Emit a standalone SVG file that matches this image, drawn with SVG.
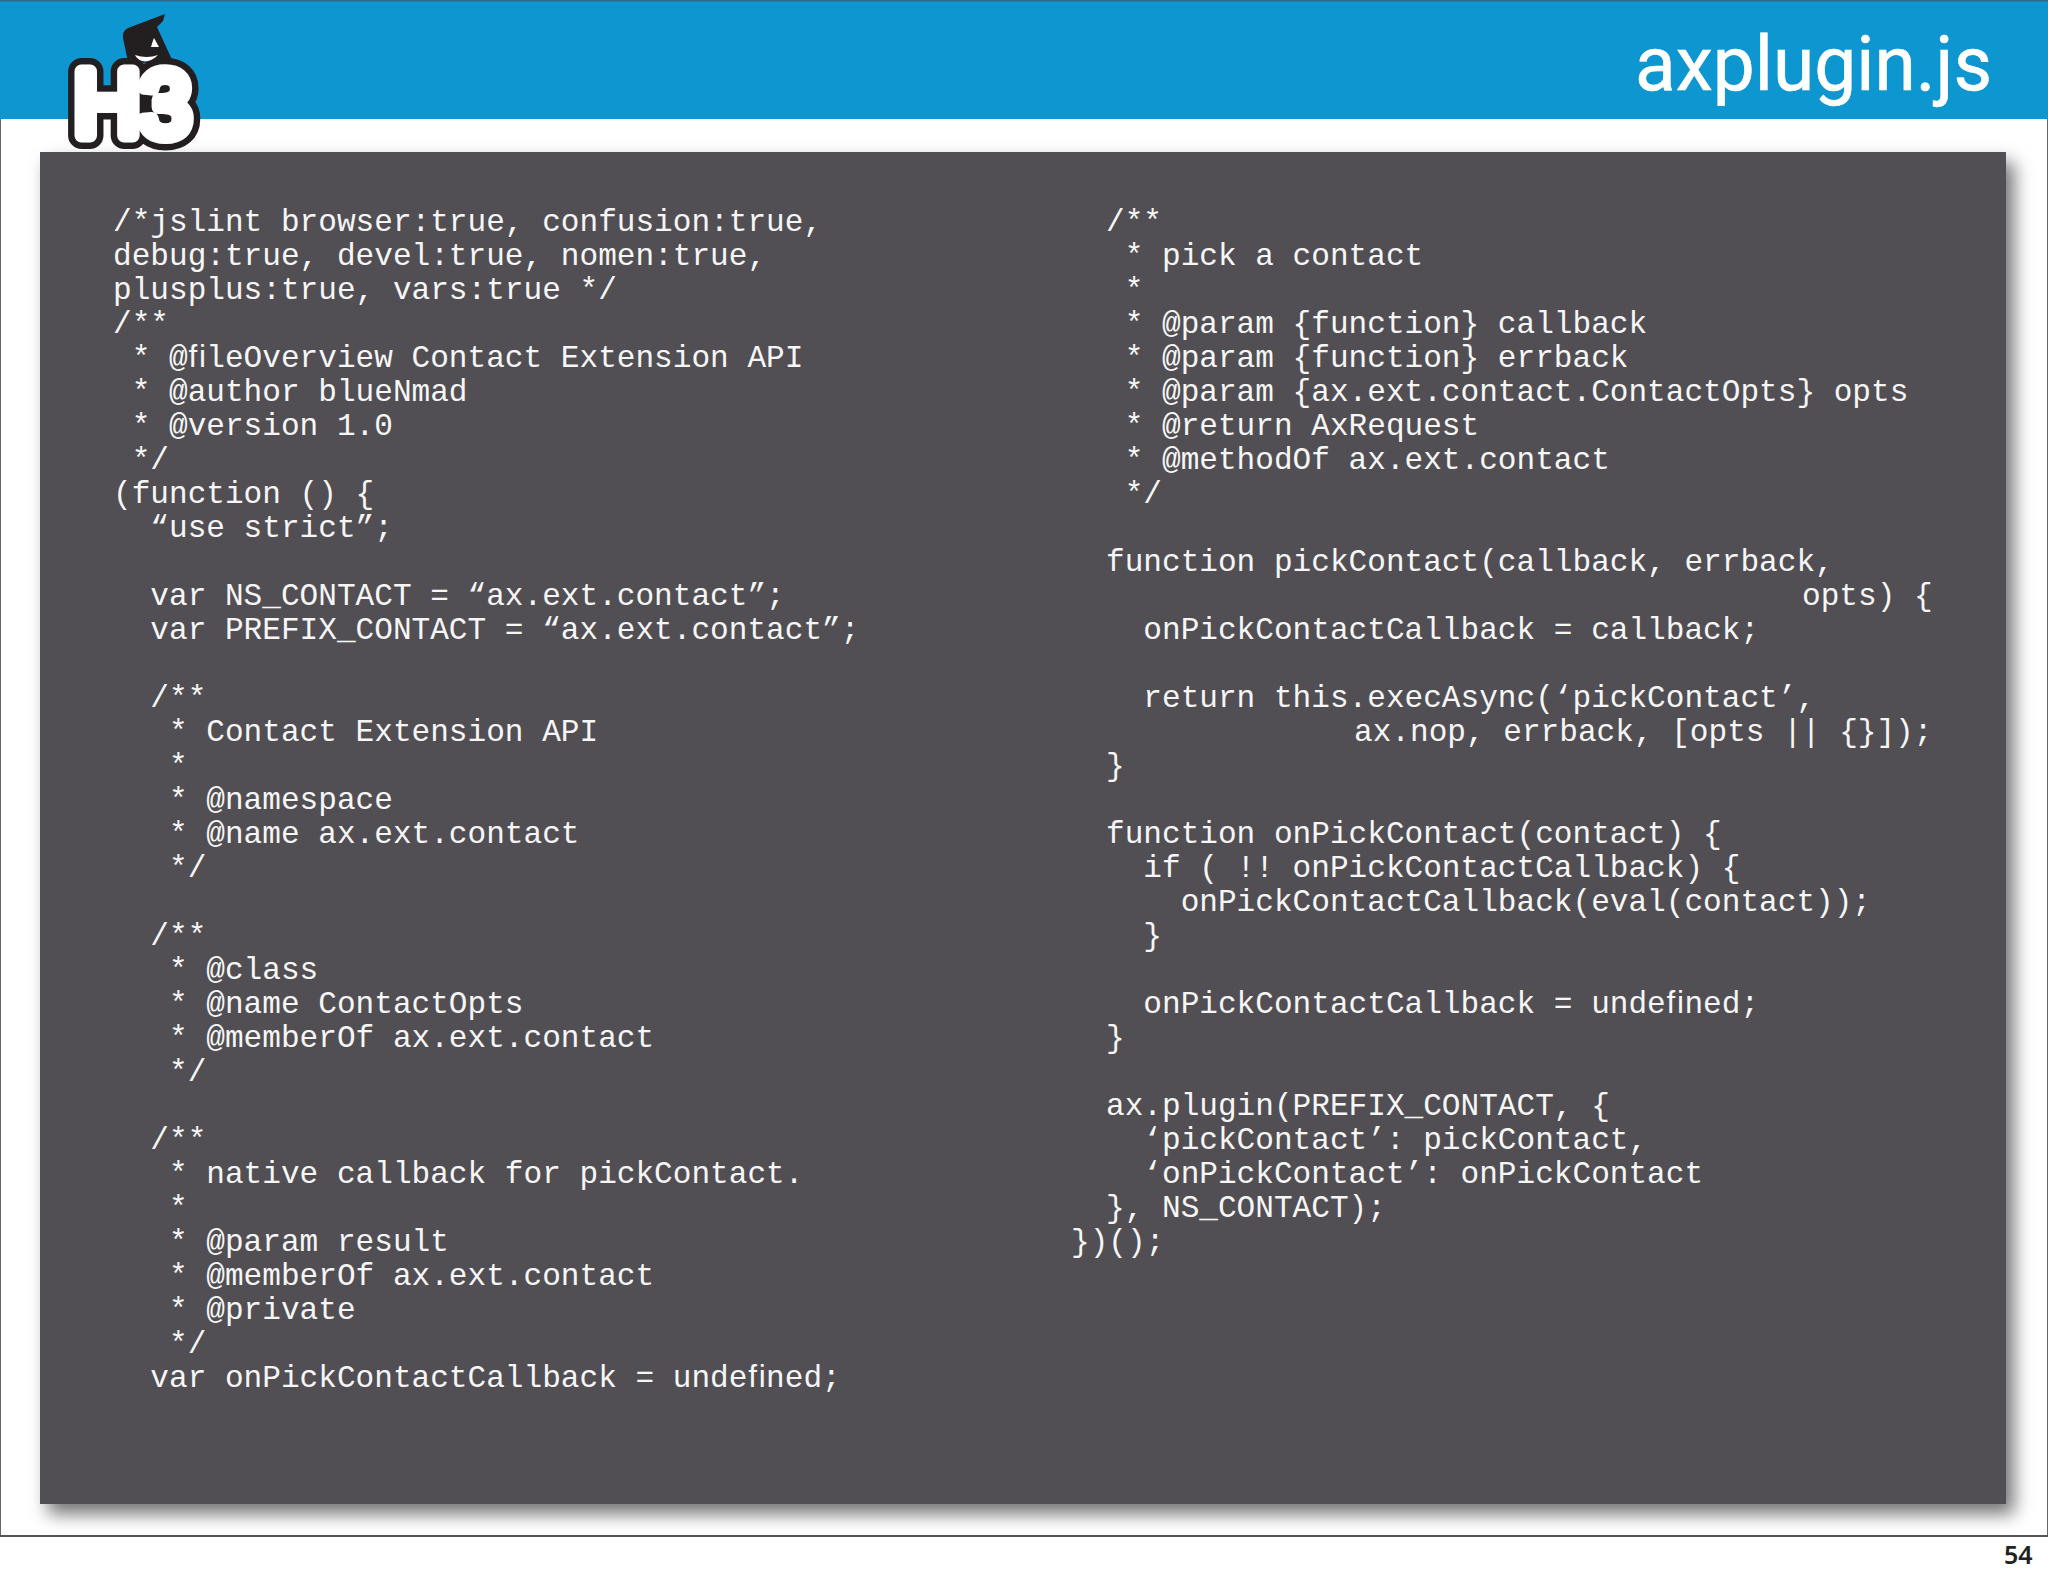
<svg xmlns="http://www.w3.org/2000/svg" width="2048" height="1576" viewBox="0 0 2048 1576">
<defs>
<filter id="sh" x="-5%" y="-5%" width="110%" height="110%"><feDropShadow dx="8" dy="10" stdDeviation="9" flood-color="#000" flood-opacity="0.55"/></filter>
</defs>
<style>
.c{font-family:"Liberation Mono",monospace;font-size:31.1px;fill:#f6f6f6;white-space:pre}
.l{font-family:"Liberation Sans",sans-serif;font-size:92px;stroke-linejoin:round;stroke-linecap:round}
</style>
<rect width="2048" height="1576" fill="#fff"/>
<g id="frame">
<rect x="0.5" y="0.5" width="2047" height="1536" fill="#fff" stroke="#666" stroke-width="1"/>
<rect x="0" y="1535" width="2048" height="2" fill="#555"/>
</g>
<g id="header">
<rect x="0" y="0" width="2048" height="119" fill="#0e96d0"/>
<rect x="0" y="0" width="2048" height="1.5" fill="#2b6a88"/>
<text x="1635" y="89.5" font-family="Roboto, sans-serif" font-size="76" fill="#fff" stroke="#fff" stroke-width="0.6" textLength="357" lengthAdjust="spacingAndGlyphs">axplugin.js</text>
</g>
<g id="panel"><rect x="40" y="152" width="1966" height="1352" fill="#514f52" filter="url(#sh)"/></g>
<g id="logo">
<text class="l" x="74" y="136" stroke="#231f20" stroke-width="27" fill="#231f20" textLength="117" lengthAdjust="spacingAndGlyphs">H3</text>
<path d="M165 14L128 28Q122 31 123 38L128 62L174 64L157 27L163 21Z" fill="#231f20"/>
<text class="l" x="74" y="136" stroke="#fff" stroke-width="14" fill="#fff" textLength="117" lengthAdjust="spacingAndGlyphs">H3</text>
<path d="M151 47Q153 40 154 38L159 47Z" fill="#fff"/>
<path d="M135 55Q147 59 158 55Q150 63 142 61Q137 59 135 55Z" fill="#fff"/>
</g>
<g id="code-left" transform="translate(0,1)">
<text class="c" x="113" y="230">/*jslint browser:true, confusion:true,</text>
<text class="c" x="113" y="264">debug:true, devel:true, nomen:true,</text>
<text class="c" x="113" y="298">plusplus:true, vars:true */</text>
<text class="c" x="113" y="332">/**</text>
<text class="c" x="113" y="366"> * @ﬁleOverview Contact Extension API</text>
<text class="c" x="113" y="400"> * @author blueNmad</text>
<text class="c" x="113" y="434"> * @version 1.0</text>
<text class="c" x="113" y="468"> */</text>
<text class="c" x="113" y="502">(function () {</text>
<text class="c" x="113" y="536">  “use strict”;</text>
<text class="c" x="113" y="604">  var NS_CONTACT = “ax.ext.contact”;</text>
<text class="c" x="113" y="638">  var PREFIX_CONTACT = “ax.ext.contact”;</text>
<text class="c" x="113" y="706">  /**</text>
<text class="c" x="113" y="740">   * Contact Extension API</text>
<text class="c" x="113" y="774">   *</text>
<text class="c" x="113" y="808">   * @namespace</text>
<text class="c" x="113" y="842">   * @name ax.ext.contact</text>
<text class="c" x="113" y="876">   */</text>
<text class="c" x="113" y="944">  /**</text>
<text class="c" x="113" y="978">   * @class</text>
<text class="c" x="113" y="1012">   * @name ContactOpts</text>
<text class="c" x="113" y="1046">   * @memberOf ax.ext.contact</text>
<text class="c" x="113" y="1080">   */</text>
<text class="c" x="113" y="1148">  /**</text>
<text class="c" x="113" y="1182">   * native callback for pickContact.</text>
<text class="c" x="113" y="1216">   *</text>
<text class="c" x="113" y="1250">   * @param result</text>
<text class="c" x="113" y="1284">   * @memberOf ax.ext.contact</text>
<text class="c" x="113" y="1318">   * @private</text>
<text class="c" x="113" y="1352">   */</text>
<text class="c" x="113" y="1386">  var onPickContactCallback = undeﬁned;</text>
</g>
<g id="code-right" transform="translate(0,1)">
<text class="c" x="1106" y="230">/**</text>
<text class="c" x="1106" y="264"> * pick a contact</text>
<text class="c" x="1106" y="298"> *</text>
<text class="c" x="1106" y="332"> * @param {function} callback</text>
<text class="c" x="1106" y="366"> * @param {function} errback</text>
<text class="c" x="1106" y="400"> * @param {ax.ext.contact.ContactOpts} opts</text>
<text class="c" x="1106" y="434"> * @return AxRequest</text>
<text class="c" x="1106" y="468"> * @methodOf ax.ext.contact</text>
<text class="c" x="1106" y="502"> */</text>
<text class="c" x="1106" y="570">function pickContact(callback, errback,</text>
<text class="c" x="1802" y="604">opts) {</text>
<text class="c" x="1106" y="638">  onPickContactCallback = callback;</text>
<text class="c" x="1106" y="706">  return this.execAsync(‘pickContact’,</text>
<text class="c" x="1354" y="740">ax.nop, errback, [opts || {}]);</text>
<text class="c" x="1106" y="774">}</text>
<text class="c" x="1106" y="842">function onPickContact(contact) {</text>
<text class="c" x="1106" y="876">  if ( !! onPickContactCallback) {</text>
<text class="c" x="1106" y="910">    onPickContactCallback(eval(contact));</text>
<text class="c" x="1106" y="944">  }</text>
<text class="c" x="1106" y="1012">  onPickContactCallback = undeﬁned;</text>
<text class="c" x="1106" y="1046">}</text>
<text class="c" x="1106" y="1114">ax.plugin(PREFIX_CONTACT, {</text>
<text class="c" x="1106" y="1148">  ‘pickContact’: pickContact,</text>
<text class="c" x="1106" y="1182">  ‘onPickContact’: onPickContact</text>
<text class="c" x="1106" y="1216">}, NS_CONTACT);</text>
<text class="c" x="1071" y="1250">})();</text>
</g>
<g id="page"><text x="2004" y="1564" font-family="Noto Sans, sans-serif" font-size="25" font-weight="600" fill="#222">54</text></g>
</svg>
